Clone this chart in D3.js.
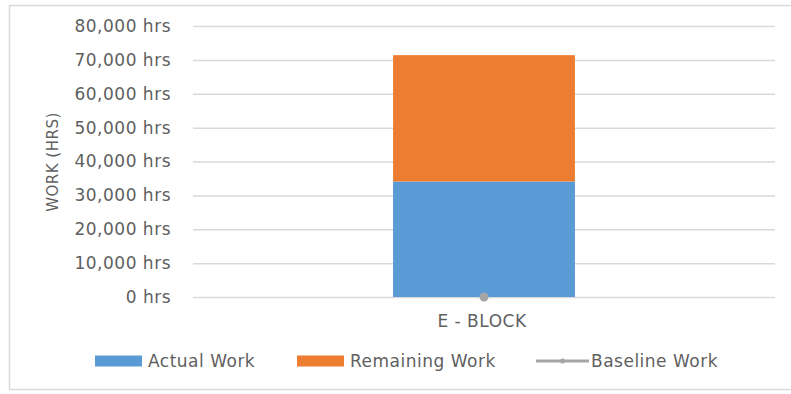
<!DOCTYPE html>
<html>
<head>
<meta charset="utf-8">
<script src="https://cdn.jsdelivr.net/npm/d3@7"></script>
<style>
  body { margin: 0; background: #fff; }
  svg text { font-family: "DejaVu Sans", sans-serif; fill: #5f5f5f; letter-spacing: 0.5px; }
</style>
</head>
<body>
<div id="chart"></div>
<script>
// chart data
const categories = ['E - BLOCK'];
const actualWork = [34100];
const remainingWork = [37300];
const baselineWork = [0];
const yTicks = [0, 10000, 20000, 30000, 40000, 50000, 60000, 70000, 80000];
const legendLabels = ['Actual Work', 'Remaining Work', 'Baseline Work'];

const width = 791;
const height = 394;
const plot = { left: 193, right: 775, top: 26, bottom: 297 };

const svg = d3.select('#chart')
  .append('svg')
  .attr('width', width)
  .attr('height', height);

// outer chart border
svg.append('rect')
  .attr('x', 9.5)
  .attr('y', 5.5)
  .attr('width', width)
  .attr('height', 384)
  .style('fill', 'none')
  .style('stroke', '#d9d9d9')
  .style('stroke-width', 1.5);

const xScale = d3.scaleBand()
  .domain(categories)
  .range([plot.left, plot.right])
  .paddingInner(0)
  .paddingOuter(1.1);

const yScale = d3.scaleLinear()
  .domain([0, 80000])
  .range([plot.bottom, plot.top]);

const fmt = d => d3.format(',')(d) + ' hrs';

// gridlines + y labels
const yAxis = svg.append('g')
  .attr('id', 'y-axis')
  .attr('transform', 'translate(' + plot.left + ',0)')
  .call(d3.axisLeft(yScale).tickValues(yTicks).tickFormat(fmt)
    .tickSize(-(plot.right - plot.left)).tickPadding(22));
yAxis.select('.domain').remove();
yAxis.selectAll('.tick line')
  .style('stroke', '#d9d9d9')
  .style('stroke-width', 1.5);
yAxis.selectAll('.tick text')
  .style('font-size', '17px')
  .style('font-family', '"DejaVu Sans", sans-serif')
  .style('fill', '#5f5f5f');

// stacked bars
const rows = categories.map((c, i) => ({ cat: c, actual: actualWork[i], remaining: remainingWork[i] }));

svg.append('g').selectAll('rect.actual')
  .data(rows)
  .enter()
  .append('rect')
  .attr('class', 'actual')
  .attr('x', d => xScale(d.cat))
  .attr('y', d => yScale(d.actual))
  .attr('width', xScale.bandwidth())
  .attr('height', d => yScale(0) - yScale(d.actual))
  .style('fill', '#5b9bd5');

svg.append('g').selectAll('rect.remaining')
  .data(rows)
  .enter()
  .append('rect')
  .attr('class', 'remaining')
  .attr('x', d => xScale(d.cat))
  .attr('y', d => yScale(d.actual + d.remaining))
  .attr('width', xScale.bandwidth())
  .attr('height', d => yScale(d.actual) - yScale(d.actual + d.remaining))
  .style('fill', '#ed7d31');

// baseline series (line + markers)
const line = d3.line()
  .x((d, i) => xScale(categories[i]) + xScale.bandwidth() / 2)
  .y(d => yScale(d));
svg.append('path')
  .attr('d', line(baselineWork))
  .style('fill', 'none')
  .style('stroke', '#a5a5a5')
  .style('stroke-width', 2.5);
svg.append('g').selectAll('circle')
  .data(baselineWork)
  .enter()
  .append('circle')
  .attr('cx', (d, i) => xScale(categories[i]) + xScale.bandwidth() / 2)
  .attr('cy', d => yScale(d))
  .attr('r', 4.5)
  .style('fill', '#a5a5a5');

// x labels
svg.append('g').selectAll('text')
  .data(categories)
  .enter()
  .append('text')
  .attr('x', d => xScale(d) + xScale.bandwidth() / 2 - 2)
  .attr('y', 327)
  .style('text-anchor', 'middle')
  .style('font-size', '17px')
  .text(d => d);

// y axis title
svg.append('text')
  .attr('transform', 'translate(58,162) rotate(-90)')
  .style('text-anchor', 'middle')
  .style('font-size', '15px')
  .text('WORK (HRS)');

// legend
const legend = svg.append('g').attr('id', 'legend');
const legendX = [95, 297, 536];
const legendColors = ['#5b9bd5', '#ed7d31', '#a5a5a5'];

legendLabels.forEach((label, i) => {
  const g = legend.append('g').attr('transform', 'translate(' + legendX[i] + ',361)');
  if (i < 2) {
    g.append('rect')
      .attr('x', 0).attr('y', -5.5)
      .attr('width', 47).attr('height', 11)
      .style('fill', legendColors[i]);
    g.append('text')
      .attr('x', 53).attr('y', 6)
      .style('font-size', '17px')
      .text(label);
  } else {
    g.append('line')
      .attr('x1', 0).attr('x2', 53)
      .attr('y1', 0).attr('y2', 0)
      .style('stroke', legendColors[i])
      .style('stroke-width', 3);
    g.append('circle')
      .attr('cx', 26.5).attr('cy', 0).attr('r', 2.5)
      .style('fill', legendColors[i]);
    g.append('text')
      .attr('x', 55).attr('y', 6)
      .style('font-size', '17px')
      .text(label);
  }
});
</script>
</body>
</html>
